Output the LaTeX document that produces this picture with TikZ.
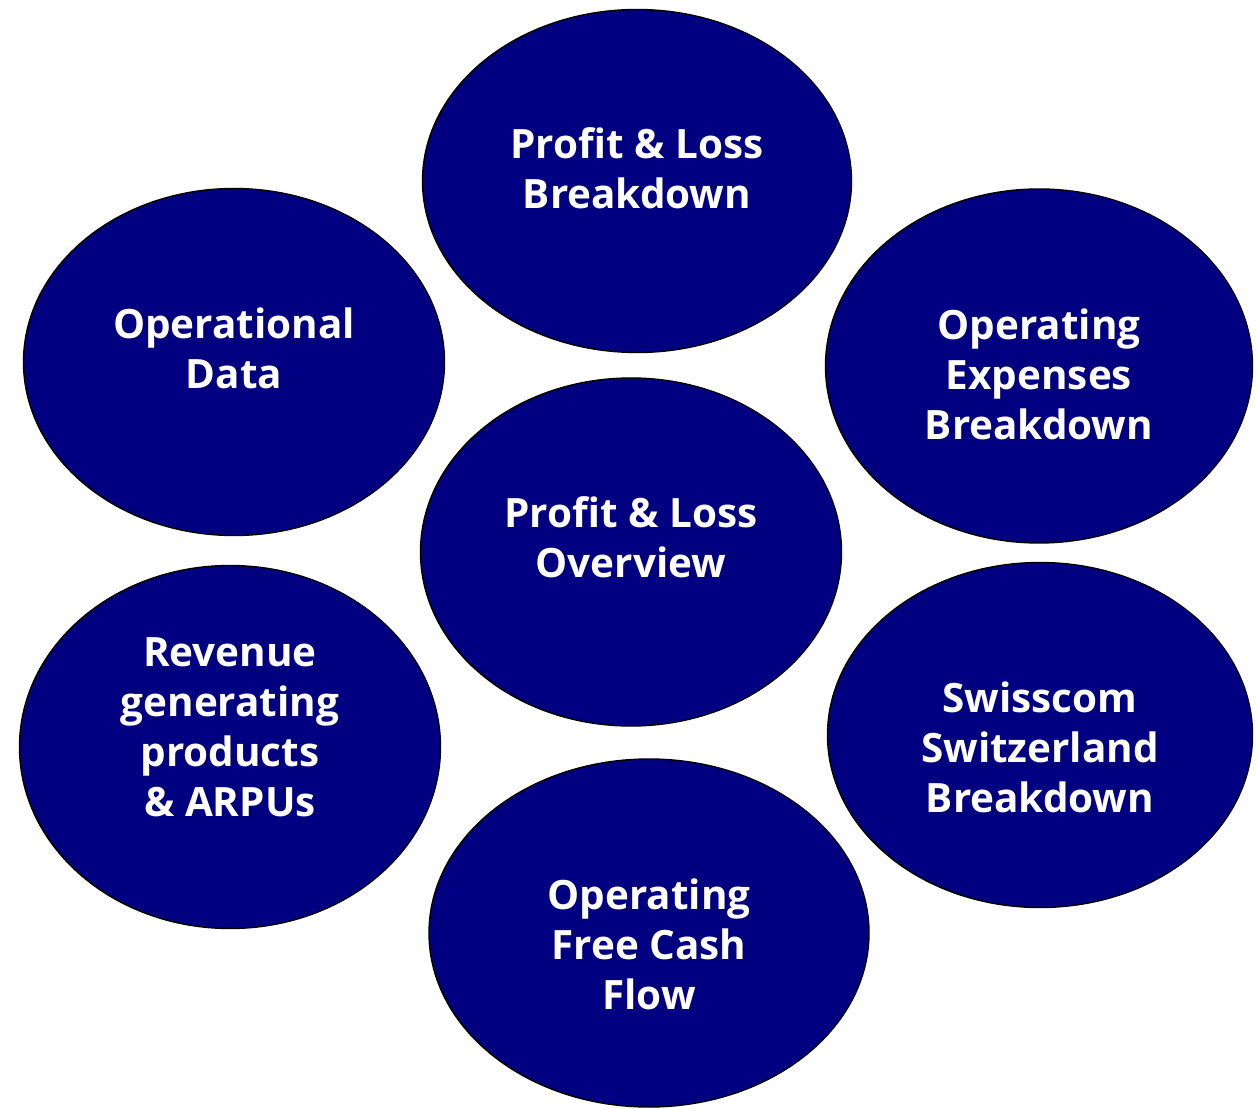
\documentclass[tikz,border=0pt]{standalone}
\usepackage{fontspec}
\setmainfont{Open Sans}
\usepackage{tikz}
\usetikzlibrary{shapes}
\definecolor{navy}{RGB}{0,0,128}
\tikzstyle{bubble} = [draw=black, fill=navy, ellipse, line width=0.8pt, inner sep=0pt]
\tikzstyle{caption} = [text=white, align=center, font=\fontsize{23}{28.45}\selectfont\bfseries]

\begin{document}
\begin{tikzpicture}
\useasboundingbox (0,0) rectangle (25.18,-22.18);

\node[bubble, minimum width=8.58cm, minimum height=6.86cm, xshift=12.74cm, yshift=-3.62cm,
  label={[caption, yshift=0.26cm]center:{Profit \& Loss\\Breakdown}}] (plb) {};
\node[bubble, minimum width=8.42cm, minimum height=6.94cm, xshift=4.68cm, yshift=-7.24cm,
  label={[caption, yshift=0.28cm]center:{Operational\\Data}}] (opdata) {};
\node[bubble, minimum width=8.54cm, minimum height=7.08cm, xshift=20.78cm, yshift=-7.32cm,
  label={[caption, yshift=-0.16cm]center:{Operating\\Expenses\\Breakdown}}] (opex) {};
\node[bubble, minimum width=8.42cm, minimum height=6.96cm, xshift=12.62cm, yshift=-11.04cm,
  label={[caption, yshift=0.30cm]center:{Profit \& Loss\\Overview}}] (plo) {};
\node[bubble, minimum width=8.42cm, minimum height=7.26cm, xshift=4.60cm, yshift=-14.94cm,
  label={[caption, yshift=0.40cm]center:{Revenue\\generating\\products\\\& ARPUs}}] (rev) {};
\node[bubble, minimum width=8.50cm, minimum height=6.90cm, xshift=20.80cm, yshift=-14.70cm,
  label={[caption, yshift=-0.24cm]center:{Swisscom\\Switzerland\\Breakdown}}] (ssb) {};
\node[bubble, minimum width=8.80cm, minimum height=6.96cm, xshift=12.98cm, yshift=-18.66cm,
  label={[caption, yshift=-0.22cm]center:{Operating\\Free Cash\\Flow}}] (ofcf) {};

\end{tikzpicture}
\end{document}
